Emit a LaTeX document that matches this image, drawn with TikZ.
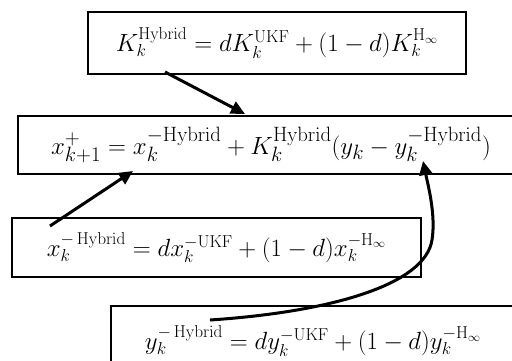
\documentclass[tikz,border=0pt]{standalone}
\usetikzlibrary{arrows.meta}
\DeclareMathSizes{23}{23}{18}{13}
\DeclareMathSizes{25}{25}{19.5}{14}

\tikzset{
    eqbox/.style={draw, line width=2.2pt, inner sep=0pt, font=\fontsize{23}{28}\selectfont},
    flow/.style={line width=3pt, -{Triangle[length=14pt,width=13pt]}}
}

\begin{document}
\begin{tikzpicture}[x=1pt, y=-1pt]
    % Fix the page and cut the boxes that run over its edges
    \useasboundingbox (0,0) rectangle (512,361);
    \clip (0,0) rectangle (512,361);

    % Place the equation boxes
    \node[eqbox, minimum width=378pt, minimum height=62pt] (kgain) at (277,43)
        {$K_k^{\mathrm{Hybrid}} = dK_k^{\mathrm{UKF}} + (1-d)K_k^{\mathrm{H}_\infty}$};
    \node[eqbox, minimum width=506pt, minimum height=58pt, font=\fontsize{25}{30}\selectfont] (xupd) at (271,145)
        {$x_{k+1}^{+} = x_k^{-\mathrm{Hybrid}} + K_k^{\mathrm{Hybrid}}(y_k - y_k^{-\mathrm{Hybrid}})$};
    \node[eqbox, minimum width=409pt, minimum height=59pt] (xprior) at (216.5,247.5)
        {$x_k^{-\,\mathrm{Hybrid}} = dx_k^{-\mathrm{UKF}} + (1-d)x_k^{-\mathrm{H}_\infty}$};
    \node[eqbox, minimum width=404pt, minimum height=70pt] (yprior) at (313,341)
        {$y_k^{-\,\mathrm{Hybrid}} = dy_k^{-\mathrm{UKF}} + (1-d)y_k^{-\mathrm{H}_\infty}$};

    % Define the ends of the connectors
    \coordinate (kfrom) at (165,72);
    \coordinate (kto) at (245,114);
    \coordinate (xfrom) at (50,226);
    \coordinate (xto) at (133,171);
    \coordinate (yfrom) at (210,320);
    \coordinate (ybend) at (432,240);
    \coordinate (yto) at (423,161);

    % Draw the connectors
    \draw[flow] (kfrom) -- (kto);
    \draw[flow] (xfrom) -- (xto);
    \draw[flow] (yfrom) .. controls (330,312) and (425,285) .. (ybend)
        .. controls (436,215) and (428,185) .. (yto);

\end{tikzpicture}
\end{document}
